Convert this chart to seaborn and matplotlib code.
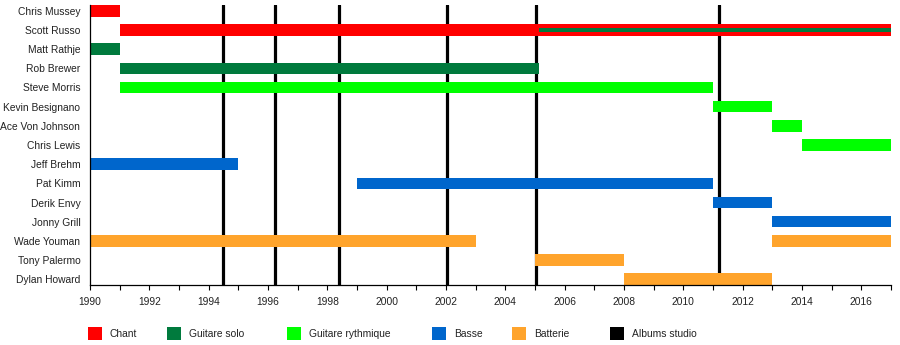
import matplotlib
matplotlib.use("Agg")
import matplotlib.pyplot as plt
import seaborn as sns
from matplotlib.patches import Rectangle

# ---- data ----
members = ["Chris Mussey", "Scott Russo", "Matt Rathje", "Rob Brewer", "Steve Morris",
           "Kevin Besignano", "Ace Von Johnson", "Chris Lewis", "Jeff Brehm", "Pat Kimm",
           "Derik Envy", "Jonny Grill", "Wade Youman", "Tony Palermo", "Dylan Howard"]

seg_member = ["Chris Mussey", "Scott Russo", "Matt Rathje", "Rob Brewer", "Steve Morris",
              "Kevin Besignano", "Ace Von Johnson", "Chris Lewis", "Jeff Brehm", "Pat Kimm",
              "Derik Envy", "Jonny Grill", "Wade Youman", "Wade Youman", "Tony Palermo",
              "Dylan Howard"]
seg_start = [1990, 1991, 1990, 1991, 1991, 2011, 2013, 2014, 1990, 1999,
             2011, 2013, 1990, 2013, 2005, 2008]
seg_end = [1991, 2017, 1991, 2005.15, 2011, 2013, 2014, 2017, 1995, 2011,
           2013, 2017, 2003, 2017, 2008, 2013]
seg_role = ["Chant", "Chant", "Guitare solo", "Guitare solo", "Guitare rythmique",
            "Guitare rythmique", "Guitare rythmique", "Guitare rythmique", "Basse", "Basse",
            "Basse", "Basse", "Batterie", "Batterie", "Batterie", "Batterie"]

# secondary (thin) role bars
sec_member = ["Scott Russo"]
sec_start = [2005.15]
sec_end = [2017]
sec_role = ["Guitare solo"]

albums = [1994.48, 1996.24, 1998.39, 2002.03, 2005.03, 2011.2]

roles = ["Chant", "Guitare solo", "Guitare rythmique", "Basse", "Batterie", "Albums studio"]
role_colors = {"Chant": "#ff0000", "Guitare solo": "#007a3d", "Guitare rythmique": "#00ff00",
               "Basse": "#0066cc", "Batterie": "#ffa42c", "Albums studio": "#000000"}

# ---- style ----
sns.set_style("white")
plt.rcParams["font.family"] = ["Liberation Sans", "DejaVu Sans"]

fig = plt.figure(figsize=(9, 3.45), dpi=100)
ax = fig.add_axes([90 / 900, 1 - 285 / 345, 801 / 900, 280 / 345])

ypos = {m: i for i, m in enumerate(members)}

for x in albums:
    ax.axvline(x, color="black", lw=2.3, zorder=1)

ax.barh([ypos[m] for m in seg_member],
        [e - s for s, e in zip(seg_start, seg_end)],
        left=seg_start, height=0.6,
        color=[role_colors[r] for r in seg_role], zorder=2, linewidth=0)

ax.barh([ypos[m] for m in sec_member],
        [e - s for s, e in zip(sec_start, sec_end)],
        left=sec_start, height=0.2,
        color=[role_colors[r] for r in sec_role], zorder=3, linewidth=0)

ax.set_xlim(1990, 2017)
ax.set_ylim(len(members) - 1 + 0.3, -0.3)
ax.set_yticks(range(len(members)))
ax.set_yticklabels(members)
ax.set_xticks(range(1990, 2017, 2))
ax.set_xticks(range(1990, 2018), minor=True)

for side in ["top", "right"]:
    ax.spines[side].set_visible(False)
for side in ["left", "bottom"]:
    ax.spines[side].set_color("black")
    ax.spines[side].set_linewidth(0.9)

ax.tick_params(axis="y", length=0, pad=7, labelsize=7.4, labelcolor="#222222")
ax.tick_params(axis="x", which="both", direction="out", length=3.5, width=0.8,
               color="black", bottom=True, labelsize=7.4, pad=5, labelcolor="#222222")
ax.grid(False)

# ---- legend ----
leg_sq_x = [88, 167, 287, 432, 512, 610]
for r, x0 in zip(roles, leg_sq_x):
    fig.add_artist(Rectangle((x0 / 900, 1 - 340 / 345), 14 / 900, 13 / 345,
                             transform=fig.transFigure, color=role_colors[r], lw=0))
    fig.text((x0 + 22) / 900, 1 - 334 / 345, r, fontsize=7.4, va="center", ha="left",
             color="#222222")

fig.savefig("out.png", dpi=100)
